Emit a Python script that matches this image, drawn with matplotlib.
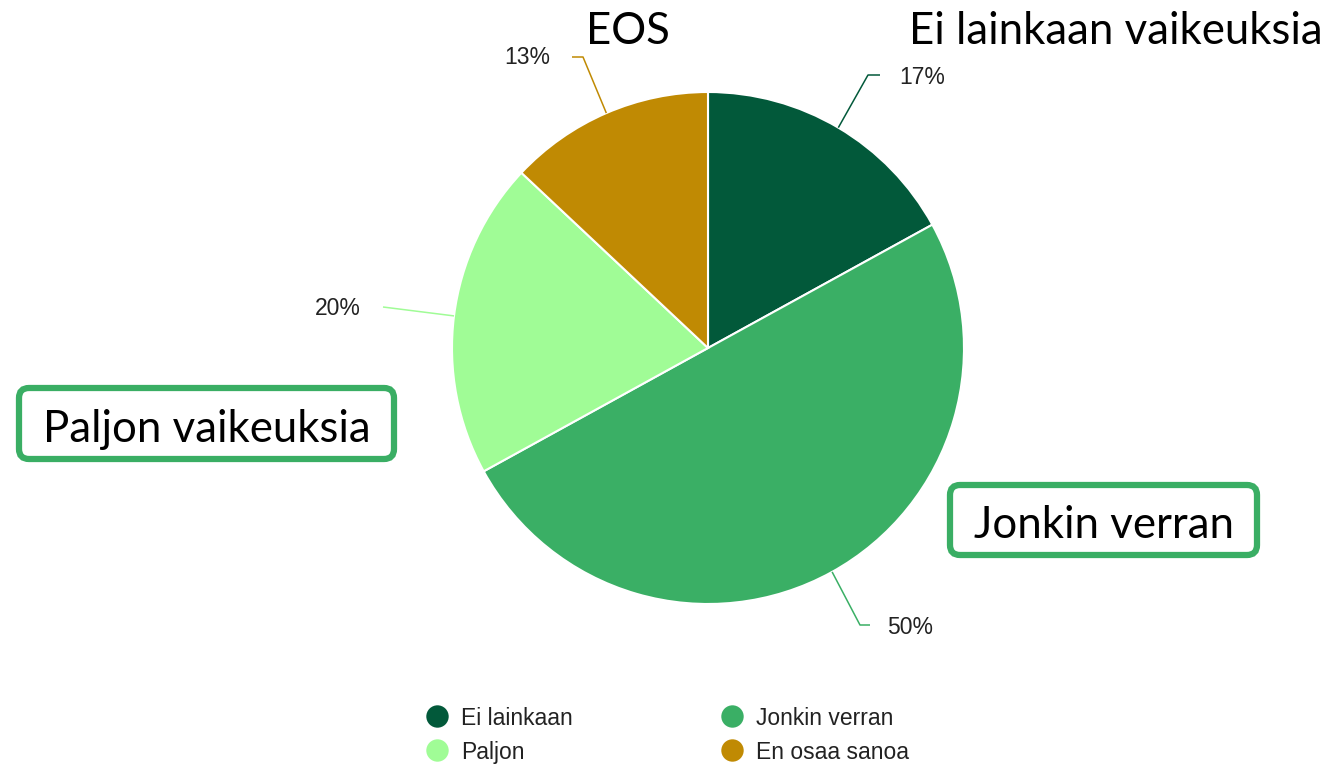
import numpy as np
import matplotlib
matplotlib.use("Agg")
import matplotlib.pyplot as plt
from matplotlib.patches import FancyBboxPatch

# ==========================================
# DATA
# ==========================================
labels = ["Ei lainkaan", "Jonkin verran", "Paljon", "En osaa sanoa"]
values = [17, 50, 20, 13]
colors = ["#02593a", "#3aaf65", "#a0fc96", "#c08a03"]
pct_labels = ["17%", "50%", "20%", "13%"]

# legend order (row by row)
legend_order = [0, 1, 2, 3]

# overlay texts
top_texts = ["EOS", "Ei lainkaan vaikeuksia"]
box_texts = ["Paljon vaikeuksia", "Jonkin verran"]

# ==========================================
# FIGURE (pixel coordinates, y measured from top)
# ==========================================
W, H = 1327, 766
fig = plt.figure(figsize=(W / 100, H / 100), dpi=100)
ax = fig.add_axes([0, 0, 1, 1])


def Y(p):
    return H - p


cx, cy, r = 708, 348, 256

wedges, _ = ax.pie(
    values,
    colors=colors,
    startangle=90,
    counterclock=False,
    center=(cx, Y(cy)),
    radius=r,
    wedgeprops=dict(edgecolor="white", linewidth=1.5),
)

ax.set_xlim(0, W)
ax.set_ylim(0, H)
ax.set_aspect("equal")
ax.axis("off")

# ==========================================
# LEADER LINES + PERCENT LABELS
# ==========================================
pct_font = dict(family="Liberation Sans", fontsize=16.5, color="#222222")

# angle where leader starts, elbow point, end point, text pos, alignment
leaders = [
    (None, (868, 75), (880, 75), (899, 75), "left"),
    (-61, (860, 625), (870, 625), (887, 625), "left"),
    (None, (383, 307), (383, 307), (361, 306), "right"),
    (None, (583, 57), (572, 57), (550, 55), "right"),
]

for i, w in enumerate(wedges):
    ang, elbow, end, tpos, ha = leaders[i]
    if ang is None:
        ang = (w.theta1 + w.theta2) / 2
    a = np.deg2rad(ang)
    sx = cx + r * np.cos(a)
    sy = Y(cy) + r * np.sin(a)
    ax.plot([sx, elbow[0], end[0]], [sy, Y(elbow[1]), Y(end[1])],
            color=colors[i], lw=1.1, solid_capstyle="butt")
    ax.text(tpos[0], Y(tpos[1]), pct_labels[i], ha=ha,
            va="center_baseline", **pct_font)

# ==========================================
# LEGEND (2 columns)
# ==========================================
leg_x = [437, 732]
leg_y = [716, 750]
for k, idx in enumerate(legend_order):
    x = leg_x[k % 2]
    y = leg_y[k // 2]
    ax.scatter([x], [Y(y)], s=260, color=colors[idx], linewidths=0)
    ax.text(x + 24, Y(y), labels[idx], ha="left",
            va="center_baseline", **pct_font)

# ==========================================
# OVERLAY TEXT (slide annotations)
# ==========================================
big_font = dict(family="Lato", fontsize=31.5, color="black")

ax.text(628, Y(27), top_texts[0], ha="center", va="center_baseline", **big_font)
ax.text(1116, Y(27), top_texts[1], ha="center", va="center_baseline", **big_font)

boxes = [(16, 385, 397, 462), (947, 482, 1260, 558)]
for (x0, y0, x1, y1), txt in zip(boxes, box_texts):
    box = FancyBboxPatch(
        (x0 + 3, Y(y1) + 3), (x1 - x0) - 6, (y1 - y0) - 6,
        boxstyle="round,pad=0,rounding_size=10",
        facecolor="white", edgecolor="#3aae64", linewidth=4.5,
    )
    ax.add_patch(box)
    ax.text((x0 + x1) / 2, Y((y0 + y1) / 2 + 2), txt,
            ha="center", va="center_baseline", **big_font)

fig.savefig("out.png", dpi=100, facecolor="white")
